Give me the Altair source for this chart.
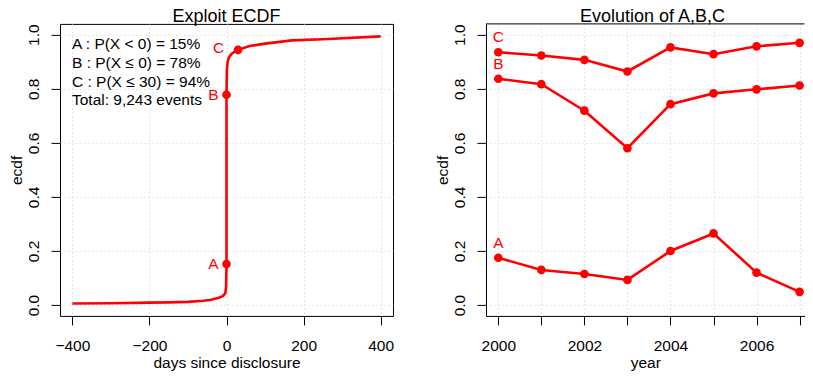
import altair as alt
import pandas as pd

FONT = "Liberation Sans"
RED = "#ff0000"

# ---- left panel: ECDF curve ----
ecdf_days = [-400, -300, -200, -150, -100, -60, -40, -20, -10, -7, -3, -1, 0,
             0, 1, 3, 6, 12, 20, 30, 60, 100, 170, 250, 400]
ecdf_vals = [0.006, 0.007, 0.009, 0.010, 0.012, 0.016, 0.020, 0.027, 0.033, 0.037, 0.045, 0.070, 0.152,
             0.778, 0.870, 0.900, 0.915, 0.928, 0.936, 0.944, 0.958, 0.967, 0.979, 0.983, 0.994]

point_labels = ["A", "B", "C"]
point_days = [0, 0, 30]
point_vals = [0.152, 0.778, 0.944]

annotation_lines = [
    "A : P(X < 0) = 15%",
    "B : P(X \u2264 0) = 78%",
    "C : P(X \u2264 30) = 94%",
    "Total: 9,243 events",
]

left_title = "Exploit ECDF"
right_title = "Evolution of A,B,C"

# ---- right panel: evolution of A, B, C ----
years = [2000, 2001, 2002, 2003, 2004, 2005, 2006, 2007]
a_vals = [0.175, 0.130, 0.115, 0.093, 0.200, 0.265, 0.120, 0.049]
b_vals = [0.837, 0.817, 0.719, 0.580, 0.743, 0.783, 0.798, 0.812]
c_vals = [0.935, 0.923, 0.907, 0.864, 0.953, 0.928, 0.957, 0.970]

ecdf_df = pd.DataFrame({"days": ecdf_days, "ecdf": ecdf_vals, "idx": list(range(len(ecdf_days)))})
pts_df = pd.DataFrame({"days": point_days, "ecdf": point_vals, "label": point_labels})
one_row = pd.DataFrame({"n": [1]})

evo_rows = []
for name, vals in (("A", a_vals), ("B", b_vals), ("C", c_vals)):
    for yr, v in zip(years, vals):
        evo_rows.append({"year": yr, "ecdf": v, "series": name})
evo_df = pd.DataFrame(evo_rows)

axis_style = dict(
    domain=False, tickColor="black", tickSize=9, tickWidth=1,
    labelFont=FONT, labelFontSize=15.5, labelColor="black",
    titleFont=FONT, titleFontSize=15.5, titleFontWeight="normal", titleColor="black",
    grid=True, gridColor="#cfcfcf", gridDash=[1, 3], gridWidth=1,
)

y_values = [0.0, 0.2, 0.4, 0.6, 0.8, 1.0]
PLOT_H = 292


def y_axis(style):
    return alt.Axis(values=y_values, format=".1f", title="ecdf", labelAngle=-90,
                    labelAlign="center", labelBaseline="alphabetic", labelPadding=12.5,
                    titlePadding=2, **style)


def x_axis(vals, title, style, **extra):
    return alt.Axis(values=vals, title=title, labelPadding=13.5,
                    titleY=51.5, titleBaseline="alphabetic", **extra, **style)


def title_mark(text, center):
    return alt.Chart(one_row).mark_text(
        text=text, font=FONT, fontSize=18, align="center", baseline="alphabetic",
        color="black").encode(x=alt.value(center), y=alt.value(-2.3))


y_left = alt.Y("ecdf:Q", scale=alt.Scale(domain=[-0.04, 1.04], nice=False, zero=False),
               axis=y_axis(axis_style))
x_left = alt.X("days:Q", scale=alt.Scale(domain=[-432, 432], nice=False, zero=False),
               axis=x_axis([-400, -200, 0, 200, 400], "days since disclosure", axis_style))

LEFT_W = 333
line_left = alt.Chart(ecdf_df).mark_line(color=RED, strokeWidth=2.6).encode(
    x=x_left, y=y_left, order="idx:Q")
pts_left = alt.Chart(pts_df).mark_circle(color=RED, size=75, opacity=1).encode(
    x="days:Q", y="ecdf:Q")
lab_ab = alt.Chart(pts_df).transform_filter("datum.label != 'C'").mark_text(
    color=RED, font=FONT, fontSize=15.5, align="right", baseline="middle", dx=-8).encode(
    x="days:Q", y="ecdf:Q", text="label:N")
lab_c = alt.Chart(pts_df).transform_filter("datum.label == 'C'").mark_text(
    color=RED, font=FONT, fontSize=15.5, align="right", baseline="middle", dx=-14, dy=-2).encode(
    x="days:Q", y="ecdf:Q", text="label:N")
annot = alt.Chart(one_row).mark_text(
    text=annotation_lines, font=FONT, fontSize=15.5, lineHeight=18.7, align="left",
    baseline="alphabetic", color="black").encode(
    x=alt.value(12), y=alt.value(25.5))

left = alt.layer(line_left, pts_left, lab_ab, lab_c, annot,
                 title_mark(left_title, LEFT_W / 2)).properties(
    width=LEFT_W, height=PLOT_H,
    view=alt.ViewBackground(stroke="black", strokeWidth=1),
)

RIGHT_W = 318.5
right_style = dict(axis_style)
right_style["domain"] = True
right_style["domainColor"] = "black"
right_style["domainWidth"] = 1

x_right = alt.X("year:Q", scale=alt.Scale(domain=[1999.714, 2007.114], nice=False, zero=False),
                axis=x_axis(years, "year", right_style, format="d",
                            labelExpr="datum.value % 2 == 0 ? datum.label : ''"))
y_right = alt.Y("ecdf:Q", scale=alt.Scale(domain=[-0.04, 1.04], nice=False, zero=False),
                axis=y_axis(right_style))

line_right = alt.Chart(evo_df).mark_line(color=RED, strokeWidth=2.6).encode(
    x=x_right, y=y_right, detail="series:N")
pts_right = alt.Chart(evo_df).mark_circle(color=RED, size=75, opacity=1).encode(
    x="year:Q", y="ecdf:Q")
lab_right = alt.Chart(evo_df).transform_filter("datum.year == 2000").mark_text(
    color=RED, font=FONT, fontSize=15.5, align="center", baseline="middle", dy=-15).encode(
    x="year:Q", y="ecdf:Q", text="series:N")
top_frame = alt.Chart(one_row).mark_rule(color="black", strokeWidth=1).encode(
    x=alt.value(0), x2=alt.value(RIGHT_W), y=alt.value(0))

right = alt.layer(line_right, pts_right, lab_right, top_frame,
                  title_mark(right_title, 166.5)).properties(
    width=RIGHT_W, height=PLOT_H,
    view=alt.ViewBackground(stroke="transparent", strokeWidth=0),
)

chart = alt.hconcat(left, right, spacing=93, bounds="flush").properties(
    padding={"left": 0, "top": -1.1, "right": 0, "bottom": 0},
    background="white",
)

chart.save("out.html", embed_options={"renderer": "svg", "actions": False})
